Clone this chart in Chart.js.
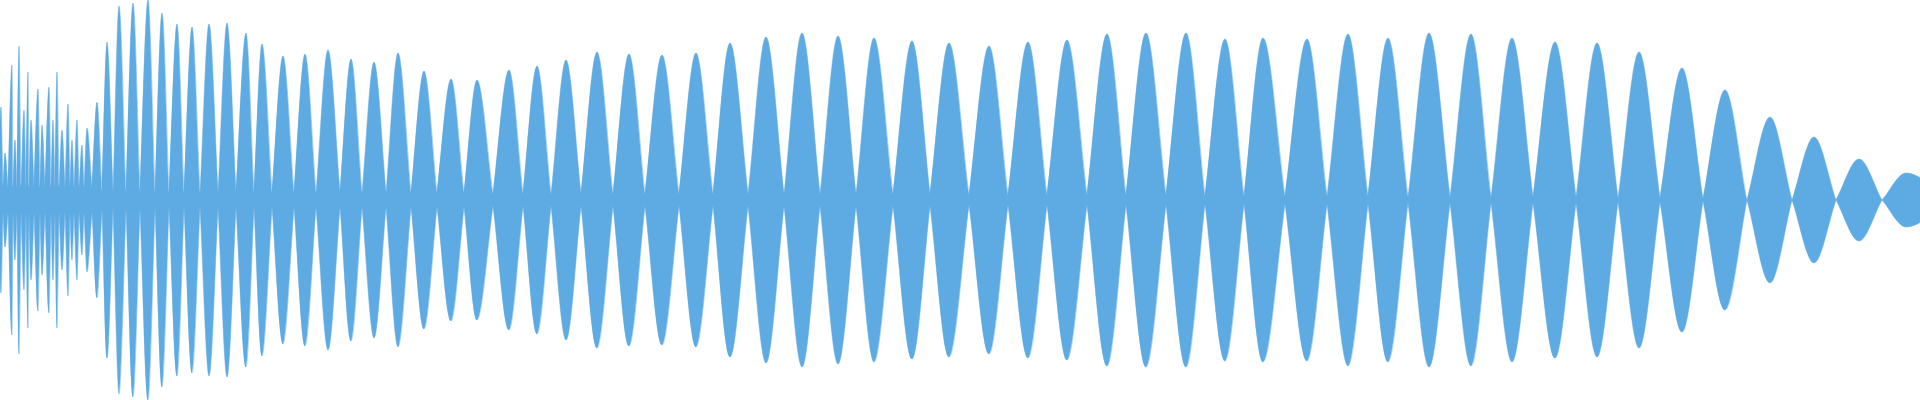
<!DOCTYPE html>
<html>
<head>
<meta charset="utf-8">
<style>
  html, body { margin: 0; padding: 0; background: #fff; }
  #wrap { width: 1920px; height: 400px; }
</style>
<script src="https://cdn.jsdelivr.net/npm/chart.js@4"></script>
</head>
<body>
<div id="wrap"><canvas id="wave"></canvas></div>
<script>
// lobe peaks (sample position, amplitude)
const peakX = [1, 5, 12, 15, 19, 24, 28, 31, 38, 42, 49, 53, 57, 62, 68, 72, 77, 82, 87, 97,
  107, 119, 133, 148, 162, 177, 192, 209, 227, 246, 262, 283, 305, 328, 351, 374, 398, 424, 451, 477,
  509, 537, 566, 597, 629, 662, 696, 730, 766, 802, 838, 874, 912, 949, 989, 1028, 1067, 1107, 1146, 1186,
  1225, 1263, 1307, 1348, 1388, 1429, 1471, 1512, 1555, 1597, 1639, 1682, 1725, 1770, 1814, 1859, 1906];
const peakAmp = [93, 47, 135, 60, 154, 90, 128, 80, 111, 75, 113, 80, 128, 70, 96, 60, 80, 55, 72, 98,
  158, 194, 197, 200, 187, 176, 173, 176, 177, 167, 156, 144, 146, 150, 141, 138, 147, 129, 121, 120,
  130, 134, 140, 148, 146, 145, 147, 157, 163, 167, 164, 162, 159, 157, 154, 158, 160, 166, 167, 167,
  161, 162, 161, 166, 162, 167, 166, 162, 158, 157, 148, 132, 110, 83, 63, 41, 27];
// zero crossings between lobes and the level the envelope drops to there
const crossX = [-2, 3, 8, 13, 17, 21, 26, 29, 34, 40, 45, 51, 55, 59, 65, 70, 74, 79, 84, 92,
  102, 113, 126, 140, 155, 169, 184, 200, 218, 236, 254, 272, 294, 316, 340, 362, 386, 411, 437, 464,
  493, 523, 551, 581, 613, 645, 679, 713, 748, 784, 820, 856, 893, 930, 969, 1008, 1047, 1087, 1126, 1166,
  1205, 1244, 1285, 1327, 1368, 1408, 1450, 1491, 1533, 1576, 1618, 1660, 1703, 1747, 1792, 1836, 1882, 1950];
const crossAmp = [12, 12, 12, 12, 12, 12, 12, 12, 12, 12, 12, 12, 12, 12, 12, 12, 12, 12, 12, 12,
  9, 8, 8, 8, 7, 7, 7, 7, 7, 7, 7, 7, 7, 7, 7, 7, 7, 7, 7, 7,
  6, 6, 6, 6, 6, 6, 6, 6, 6, 6, 6, 6, 6, 6, 5, 5, 5, 5, 5, 5,
  4, 4, 4, 4, 4, 3, 3, 3, 3, 3, 2, 2, 1, 0, 0, 0, 0, 0];

const fillColor = '#5dabe2';

// one small dataset per lobe half so each crossing stays pointed
const datasets = [];
peakX.forEach((x, i) => {
  [1, -1].forEach((sign) => {
    datasets.push({
      data: [
        { x: crossX[i], y: sign * crossAmp[i] },
        { x: x, y: sign * peakAmp[i] },
        { x: crossX[i + 1], y: sign * crossAmp[i + 1] }
      ],
      fill: 'origin',
      backgroundColor: fillColor,
      borderColor: fillColor,
      borderWidth: 0.5,
      pointRadius: 0,
      cubicInterpolationMode: 'monotone'
    });
  });
});

new Chart(document.getElementById('wave'), {
  type: 'line',
  data: { datasets },
  options: {
    responsive: true,
    maintainAspectRatio: false,
    animation: false,
    layout: { padding: 0 },
    plugins: { legend: { display: false }, tooltip: { enabled: false } },
    scales: {
      x: { type: 'linear', min: 0, max: 1920, display: false },
      y: { min: -200, max: 200, display: false }
    }
  }
});
</script>
</body>
</html>
